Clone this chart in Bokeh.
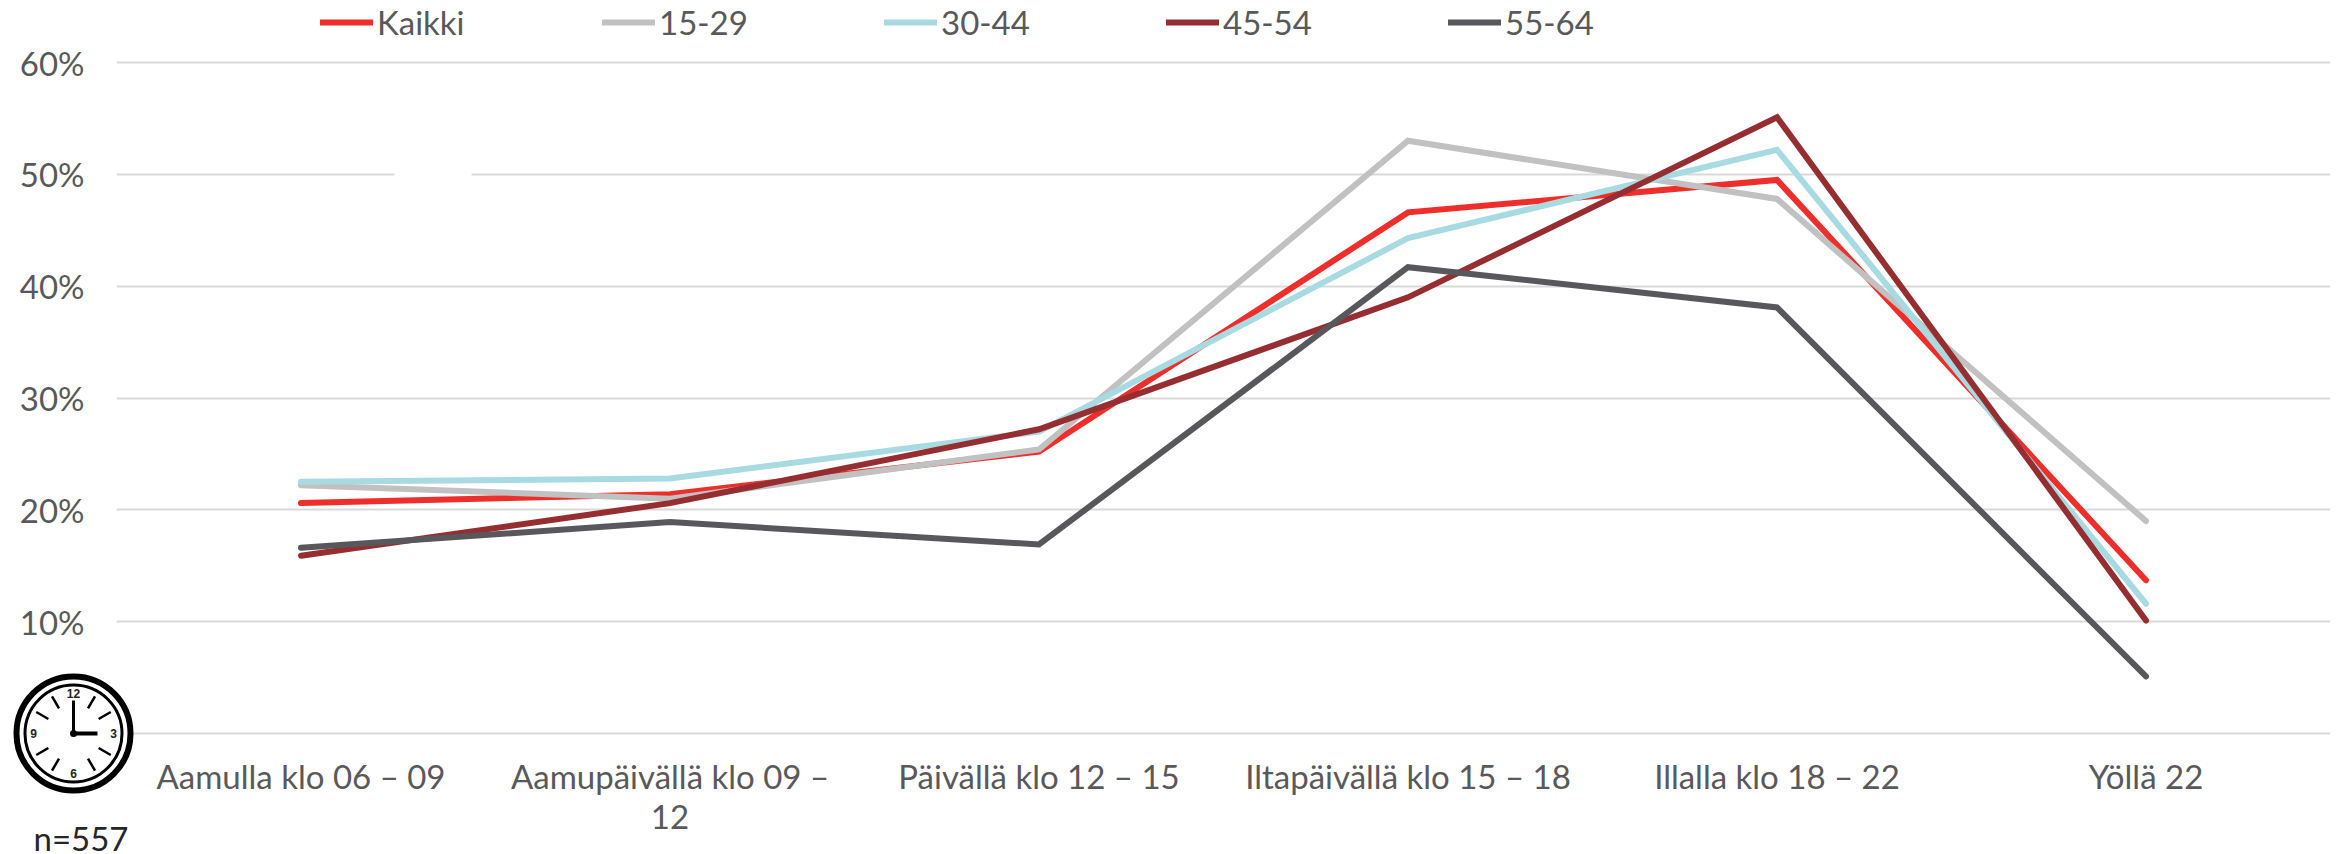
import math
from bokeh.plotting import figure
from bokeh.layouts import column
from bokeh.models import Column
from bokeh.embed import file_html
from bokeh.resources import INLINE
from bokeh.core.properties import value
from bokeh.models import (FactorRange, Range1d, FixedTicker, Legend, LegendItem, BoxAnnotation)

categories = ["Aamulla klo 06 – 09", "Aamupäivällä klo 09 –\n12", "Päivällä klo 12 – 15",
              "Iltapäivällä klo 15 – 18", "Illalla klo 18 – 22", "Yöllä 22"]
kaikki = [20.6, 21.4, 25.2, 46.6, 49.5, 13.7]
age_15_29 = [22.2, 21.0, 25.4, 53.0, 47.8, 19.0]
age_30_44 = [22.5, 22.8, 27.0, 44.3, 52.2, 11.6]
age_45_54 = [15.9, 20.6, 27.2, 39.0, 55.1, 10.1]
age_55_64 = [16.6, 18.9, 16.9, 41.7, 38.1, 5.1]
series_names = ["Kaikki", "15-29", "30-44", "45-54", "55-64"]
series_values = [kaikki, age_15_29, age_30_44, age_45_54, age_55_64]
series_colors = ["#EE2E2A", "#C1C1C1", "#A8DBE1", "#962D30", "#58585C"]
y_ticks = [0, 10, 20, 30, 40, 50, 60]
y_labels = {0: "", 10: "10%", 20: "20%", 30: "30%", 40: "40%", 50: "50%", 60: "60%"}
clock_digits = ["12", "3", "6", "9"]
note_text = ["n=557"]

FONT = "Lato"
TEXT = "#595959"
W, H = 2340, 854

p = figure(width=W, height=H, output_backend="svg", toolbar_location=None,
           x_range=FactorRange(factors=categories, range_padding=0),
           y_range=Range1d(-0.18, 60.18),
           min_border_left=116, min_border_right=10, min_border_top=60, min_border_bottom=119)
p.outline_line_color = None
p.xgrid.visible = False
p.ygrid.grid_line_color = "#D9D9D9"
p.ygrid.grid_line_width = 2
p.ygrid.ticker = FixedTicker(ticks=y_ticks)

p.yaxis.ticker = FixedTicker(ticks=y_ticks)
p.yaxis.major_label_overrides = y_labels
p.yaxis.axis_line_color = None
p.yaxis.major_tick_line_color = None
p.yaxis.minor_tick_line_color = None
p.yaxis.major_label_standoff = 26
p.yaxis.major_label_text_font = FONT
p.yaxis.major_label_text_font_size = "33px"
p.yaxis.major_label_text_color = TEXT

p.xaxis.axis_line_color = None
p.xaxis.major_tick_line_color = None
p.xaxis.major_label_standoff = 14
p.xaxis.major_label_text_font = FONT
p.xaxis.major_label_text_font_size = "33px"
p.xaxis.major_label_text_color = TEXT
p.xaxis.major_label_text_line_height = 1.0
p.xaxis.major_label_orientation = "horizontal"

# hole in the 50 % gridline
p.add_layout(BoxAnnotation(left=394, right=471, top=171, bottom=177, left_units="canvas", right_units="canvas",
                           top_units="canvas", bottom_units="canvas", fill_color="white", fill_alpha=1,
                           line_color=None, level="underlay"))

for vals, col in zip(series_values, series_colors):
    p.line(categories, vals, line_color=col, line_width=6, line_cap="round", line_join="miter")

# transparent overlay, one data unit per pixel, for what lies outside the main frame
q = figure(width=W, height=H, output_backend="svg", toolbar_location=None,
           x_range=Range1d(0, W), y_range=Range1d(H, 0),
           min_border=0, background_fill_color=None, border_fill_color=None)
q.outline_line_color = None
q.axis.visible = False
q.grid.visible = False

# legend keys only: these proxy lines lie outside the visible range
proxies = [q.line([-20, -10], [-20, -10], line_color=c, line_width=6, line_cap="round") for c in series_colors]
legend = Legend(items=[LegendItem(label=n, renderers=[r]) for n, r in zip(series_names, proxies)],
                location=(320, H - 42), orientation="horizontal", border_line_color=None, background_fill_alpha=0,
                margin=0, padding=0, glyph_width=53, glyph_height=30, label_standoff=4, spacing=0,
                label_width=225, label_text_font=FONT, label_text_font_size="33px", label_text_color=TEXT,
                label_height=30)
q.add_layout(legend, "center")

CX, CY = 73, 733
q.circle([CX], [CY], radius=57, fill_color="white", line_color="black", line_width=6)
q.circle([CX], [CY], radius=48.5, fill_color="white", line_color="black", line_width=3)
hours = [1, 2, 4, 5, 7, 8, 10, 11]
angles = [math.radians(h * 30) for h in hours]
q.segment([CX + 29 * math.sin(a) for a in angles], [CY - 29 * math.cos(a) for a in angles],
          [CX + 43 * math.sin(a) for a in angles], [CY - 43 * math.cos(a) for a in angles],
          line_color="black", line_width=2.5)
q.segment([CX], [CY + 1], [CX], [CY - 33], line_color="black", line_width=3)
q.segment([CX - 1], [CY], [CX + 24], [CY], line_color="black", line_width=4)
q.circle([CX], [CY], radius=3.5, fill_color="black", line_color=None)
q.text([CX, CX + 40, CX, CX - 40], [CY - 40, CY, CY + 40, CY], text=clock_digits,
       text_font=value("Liberation Sans"), text_font_size="12px", text_font_style="bold",
       text_color="#222222", text_align="center", text_baseline="middle")
q.text([33], [837], text=note_text, text_font=value(FONT), text_font_size="33px",
       text_color="#262626", text_baseline="alphabetic")

overlay = Column(children=[q], margin=(-H, 0, 0, 0))
open("out.html", "w").write(file_html(column(p, overlay), INLINE))
